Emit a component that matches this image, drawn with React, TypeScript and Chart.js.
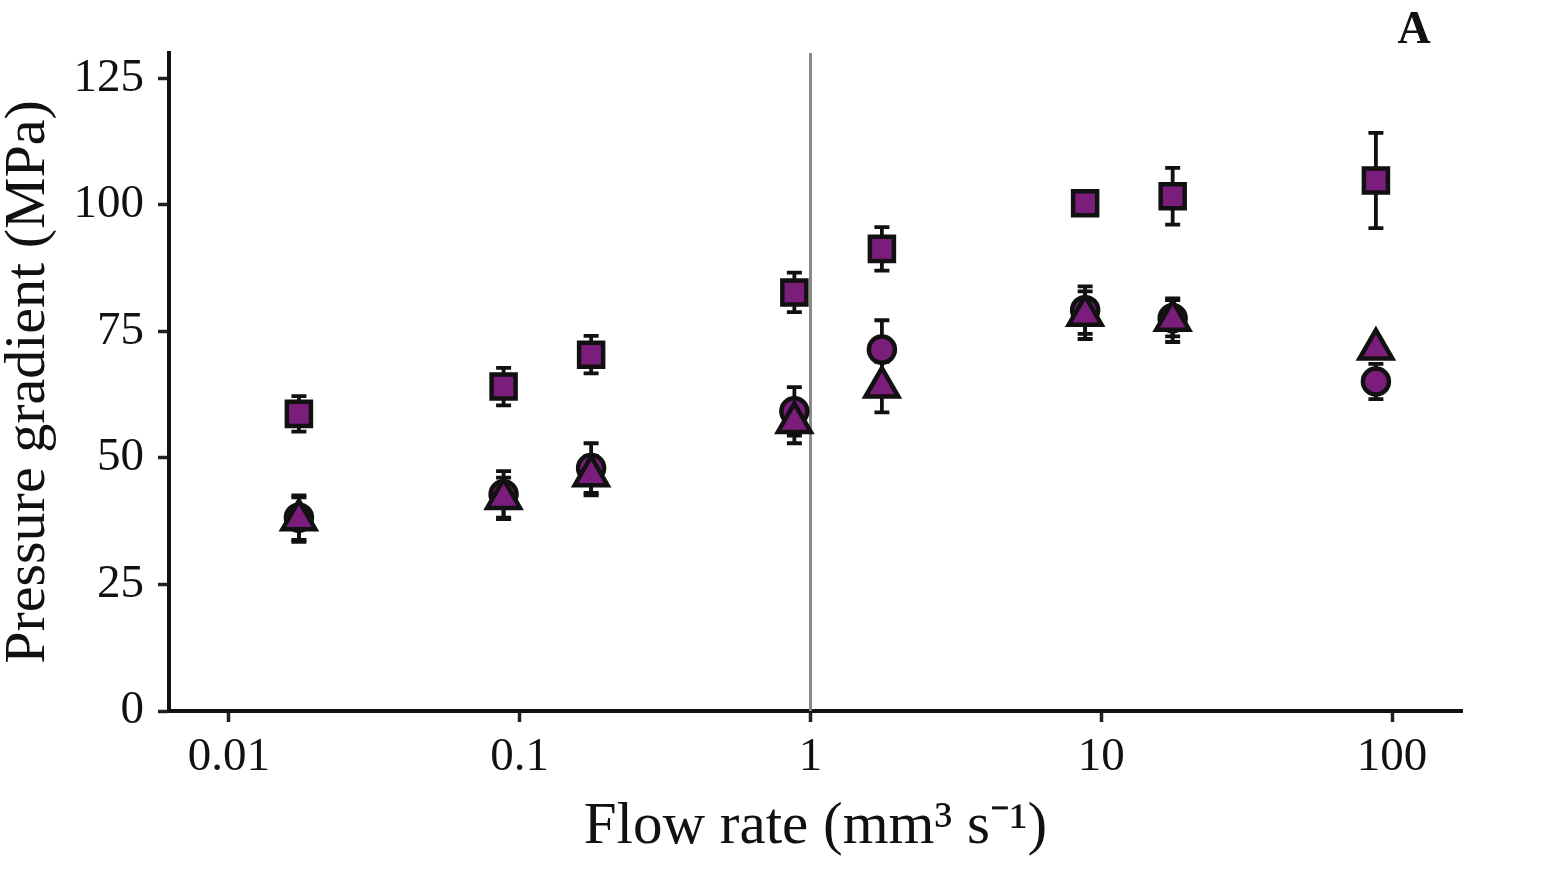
import { useEffect, useRef } from 'react'
import { Chart, registerables } from 'chart.js'

Chart.register(...registerables)

// flow rate (mm3 s-1) and pressure gradient (MPa)
const flowRates = [0.0174, 0.088, 0.176, 0.88, 1.76, 8.8, 17.6, 88]

const squareMeans = [58.7, 64.1, 70.4, 82.7, 91.3, 100.3, 101.7, 104.8]
const squareErrors = [3.5, 3.7, 3.7, 3.9, 4.3, 1.8, 5.6, 9.4]

const circleMeans = [38.2, 42.8, 48.0, 59.2, 71.4, 79.2, 77.6, 65.1]
const circleErrors = [4.4, 4.6, 4.9, 4.8, 5.8, 4.7, 3.6, 3.5]

const triangleMeans = [37.8, 42.0, 46.5, 57.0, 64.0, 78.2, 77.2, 71.5]
const triangleErrors = [4.4, 4.1, 3.9, 4.1, 5.0, 4.7, 4.3, 1.5]

const xTickValues = [0.01, 0.1, 1, 10, 100]
const xTickLabels = ['0.01', '0.1', '1', '10', '100']
const yTickValues = [0, 25, 50, 75, 100, 125]

const FONT = "'Liberation Serif', 'Times New Roman', serif"
const PURPLE = '#7b1e7b'
const INK = '#111111'

const toPoints = (means: number[]) => means.map((v, i) => ({ x: flowRates[i], y: v }))

// error bars + reference line at 1, drawn under the markers
const errorBarPlugin = {
  id: 'errorBars',
  beforeDatasetsDraw(chart: any) {
    const { ctx, chartArea, scales } = chart
    const xs = scales.x
    const ys = scales.y
    ctx.save()

    const xr = xs.getPixelForValue(1)
    ctx.strokeStyle = '#8a8a8a'
    ctx.lineWidth = 3
    ctx.beginPath()
    ctx.moveTo(xr, chartArea.top)
    ctx.lineTo(xr, chartArea.bottom)
    ctx.stroke()

    ctx.strokeStyle = INK
    ctx.lineWidth = 3.8
    chart.data.datasets.forEach((ds: any) => {
      const errs: number[] = ds.errors
      ds.data.forEach((pt: any, i: number) => {
        const px = xs.getPixelForValue(pt.x)
        const top = ys.getPixelForValue(pt.y + errs[i])
        const bot = ys.getPixelForValue(pt.y - errs[i])
        ctx.beginPath()
        ctx.moveTo(px, top)
        ctx.lineTo(px, bot)
        ctx.moveTo(px - 7.5, top)
        ctx.lineTo(px + 7.5, top)
        ctx.moveTo(px - 7.5, bot)
        ctx.lineTo(px + 7.5, bot)
        ctx.stroke()
      })
    })
    ctx.restore()
  },
  afterDraw(chart: any) {
    const { ctx } = chart
    ctx.save()
    ctx.fillStyle = INK
    ctx.font = `bold 46px ${FONT}`
    ctx.textAlign = 'center'
    ctx.textBaseline = 'alphabetic'
    ctx.fillText('A', 1414, 43)
    ctx.restore()
  },
}

export default function App() {
  const canvasRef = useRef<HTMLCanvasElement>(null)
  const chartRef = useRef<Chart | null>(null)

  useEffect(() => {
    document.body.style.margin = '0'
    if (!canvasRef.current) return
    const ctx = canvasRef.current.getContext('2d')
    if (!ctx) return

    const marker = {
      backgroundColor: PURPLE,
      borderColor: INK,
      pointBorderWidth: 4.5,
      showLine: false,
    }

    chartRef.current = new Chart(ctx, {
      type: 'scatter',
      data: {
        datasets: [
          {
            ...marker,
            label: 'square',
            data: toPoints(squareMeans),
            errors: squareErrors,
            pointStyle: 'rect',
            pointRadius: 17,
            order: 2,
          } as any,
          {
            ...marker,
            label: 'circle',
            data: toPoints(circleMeans),
            errors: circleErrors,
            pointStyle: 'circle',
            pointRadius: 13,
            order: 1,
          } as any,
          {
            ...marker,
            label: 'triangle',
            data: toPoints(triangleMeans),
            errors: triangleErrors,
            pointStyle: 'triangle',
            pointRadius: 19,
            order: 0,
          } as any,
        ],
      },
      options: {
        responsive: true,
        maintainAspectRatio: false,
        animation: false,
        layout: { padding: { top: 53, right: 101, left: 0, bottom: 0 } },
        plugins: {
          legend: { display: false },
          tooltip: { enabled: false },
        },
        scales: {
          x: {
            type: 'logarithmic',
            min: 0.00622,
            max: 174,
            afterBuildTicks: (axis: any) => {
              axis.ticks = xTickValues.map((v) => ({ value: v }))
            },
            afterFit: (axis: any) => {
              axis.height = 176
            },
            ticks: {
              autoSkip: false,
              maxRotation: 0,
              padding: 7,
              color: INK,
              font: { family: FONT, size: 47 },
              callback: (_v: any, i: number) => xTickLabels[i],
            },
            grid: {
              display: true,
              drawOnChartArea: false,
              drawTicks: true,
              tickLength: 11,
              tickWidth: 3.5,
              tickColor: '#222',
            },
            border: { display: true, width: 4, color: INK },
            title: {
              display: true,
              text: 'Flow rate (mm³ s⁻¹)',
              color: INK,
              font: { family: FONT, size: 59, lineHeight: 1 },
              padding: { top: 0, bottom: 30 },
            },
          },
          y: {
            type: 'linear',
            min: 0,
            max: 130,
            afterBuildTicks: (axis: any) => {
              axis.ticks = yTickValues.map((v) => ({ value: v }))
            },
            afterFit: (axis: any) => {
              axis.width = 169
            },
            ticks: {
              padding: 14,
              color: INK,
              font: { family: FONT, size: 47 },
            },
            grid: {
              display: true,
              drawOnChartArea: false,
              drawTicks: true,
              tickLength: 11,
              tickWidth: 3.5,
              tickColor: '#222',
            },
            border: { display: true, width: 4, color: INK },
            title: {
              display: true,
              text: 'Pressure gradient (MPa)',
              color: INK,
              font: { family: FONT, size: 58, lineHeight: 1 },
              padding: { top: 0, bottom: 0 },
            },
          },
        },
      },
      plugins: [errorBarPlugin],
    })

    return () => {
      if (chartRef.current) {
        chartRef.current.destroy()
        chartRef.current = null
      }
    }
  }, [])

  return (
    <div style={{ position: 'relative', width: '1563px', height: '887px', background: '#fff' }}>
      <canvas ref={canvasRef} />
    </div>
  )
}
